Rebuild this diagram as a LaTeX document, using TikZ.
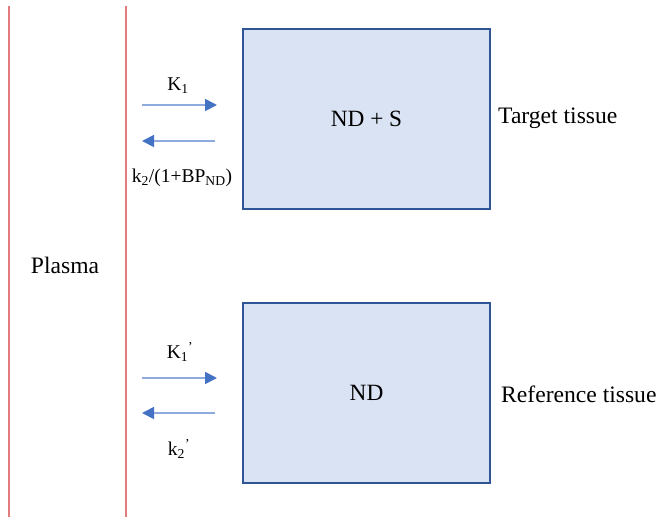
\documentclass[tikz,border=0pt]{standalone}
\usepackage{fontspec}
\setmainfont{Liberation Serif}
\usetikzlibrary{arrows.meta}

\definecolor{plasmared}{RGB}{226,124,124}
\definecolor{tissuefill}{RGB}{218,227,243}
\definecolor{tissueline}{RGB}{47,85,151}
\definecolor{rateblue}{RGB}{68,114,196}

\tikzset{
  tissue/.style={draw=tissueline, line width=1.8pt, fill=tissuefill,
    minimum width=247pt, minimum height=180pt, inner sep=0pt,
    font=\fontsize{23.3}{27}\selectfont},
  label/.style={inner sep=0pt, font=\fontsize{23.6}{27}\selectfont},
  rate/.style={inner sep=0pt, font=\fontsize{19.5}{23}\selectfont},
  wall/.style={draw=plasmared, line width=1.6pt},
  flow/.style={draw=rateblue!60, line width=1.8pt,
    -{Triangle[length=12pt, width=12pt, color=rateblue]}}
}

\begin{document}
\begin{tikzpicture}[x=1pt, y=-1pt]

      \useasboundingbox (0,0) rectangle (660,517) ;

      \coordinate (walla) at (9,6) ;
      \coordinate (wallaend) at (9,517) ;
      \coordinate (wallb) at (126,6) ;
      \coordinate (wallbend) at (126,517) ;
      \draw [wall] (walla) -- (wallaend) ;
      \draw [wall] (wallb) -- (wallbend) ;

      \node [label] (plasma) at (65,265) {Plasma} ;

      \node [tissue] (target) at (366.5,119) {ND + S} ;
      \node [tissue] (reference) at (366.5,393) {ND} ;

      \node [label, anchor=west] (targetname) at (498,118) {Target tissue} ;
      \node [label, anchor=west] (refname) at (501,394) {Reference tissue} ;

      \coordinate (inA) at (142,105) ;
      \coordinate (inB) at (217,105) ;
      \coordinate (outA) at (215,141) ;
      \coordinate (outB) at (142,141) ;
      \coordinate (refinA) at (142,378) ;
      \coordinate (refinB) at (217,378) ;
      \coordinate (refoutA) at (215,413) ;
      \coordinate (refoutB) at (142,413) ;

      \draw [flow] (inA) -- (inB) ;
      \draw [flow] (outA) -- (outB) ;
      \draw [flow] (refinA) -- (refinB) ;
      \draw [flow] (refoutA) -- (refoutB) ;

      \node [rate] (kone) at (178,86) {K\textsubscript{1}} ;
      \node [rate] (ktwo) at (182,178) {k\textsubscript{2}/(1+BP\textsubscript{ND})} ;
      \node [rate] (konep) at (180,352) {K\textsubscript{1}\textsuperscript{’}} ;
      \node [rate] (ktwop) at (179,449) {k\textsubscript{2}\textsuperscript{’}} ;

\end{tikzpicture}
\end{document}
